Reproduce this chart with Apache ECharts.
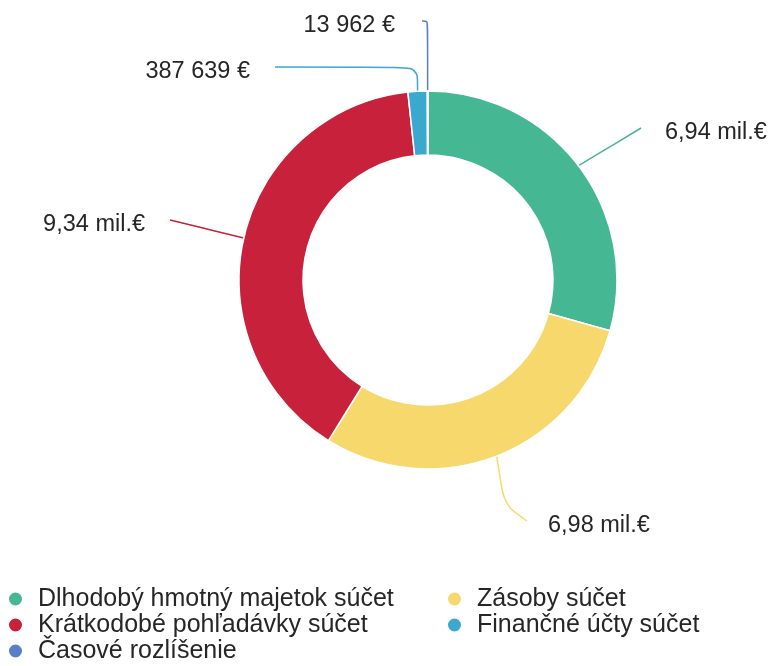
<!DOCTYPE html>
<html>
<head>
<meta charset="utf-8">
<script src="https://cdn.jsdelivr.net/npm/echarts@6/dist/echarts.min.js"></script>
<style>
html,body{margin:0;padding:0;background:#fff;}
#chart{width:770px;height:666px;}
</style>
</head>
<body>
<div id="chart"></div>
<script>
// Data (clockwise from 12 o'clock)
const categories = [
  'Dlhodobý hmotný majetok súčet',
  'Zásoby súčet',
  'Krátkodobé pohľadávky súčet',
  'Finančné účty súčet',
  'Časové rozlíšenie'
];
const values = [6940000, 6980000, 9340000, 387639, 13962];
const valueLabels = ['6,94 mil.€', '6,98 mil.€', '9,34 mil.€', '387 639 €', '13 962 €'];
const colors = ['#45b792', '#f6d86c', '#c8213c', '#3aa8cf', '#5a7fc6'];
const legendCol1 = ['Dlhodobý hmotný majetok súčet', 'Krátkodobé pohľadávky súčet', 'Časové rozlíšenie'];
const legendCol2 = ['Zásoby súčet', 'Finančné účty súčet'];

// Layout: where each value label's text edge sits, the gap before its guide line, and the line's shape
const labelPlace = [
  {x: 665, y: 133, align: 'left', gap: 24, bend: 'straight'},
  {x: 548, y: 526, align: 'left', gap: 21, bend: 'curve'},
  {x: 145, y: 225, align: 'right', gap: 25, bend: 'straight'},
  {x: 250, y: 72, align: 'right', gap: 25, bend: 'corner'},
  {x: 395, y: 26, align: 'right', gap: 27, bend: 'corner'}
];

const font = '"Liberation Sans", Arial, sans-serif';
const chart = echarts.init(document.getElementById('chart'), null, {renderer: 'canvas'});

const seriesData = categories.map((name, i) => ({
  name: name,
  value: values[i],
  itemStyle: {color: colors[i]},
  label: {formatter: valueLabels[i]}
}));

const legendBase = {
  orient: 'vertical',
  icon: 'circle',
  itemWidth: 15,
  itemHeight: 15,
  itemGap: 0,
  padding: 0,
  textStyle: {fontFamily: font, fontSize: 25, color: '#262626', lineHeight: 26, padding: [0, 0, 0, 10]},
  selectedMode: false
};

chart.setOption({
  animation: false,
  backgroundColor: '#ffffff',
  legend: [
    Object.assign({}, legendBase, {data: legendCol1, left: 7, top: 586}),
    Object.assign({}, legendBase, {data: legendCol2, left: 446, top: 586})
  ],
  series: [{
    type: 'pie',
    center: [428, 280],
    radius: [125, 189],
    startAngle: 90,
    clockwise: true,
    avoidLabelOverlap: false,
    minAngle: 0,
    itemStyle: {borderColor: '#ffffff', borderWidth: 1.5},
    label: {
      show: true,
      position: 'outside',
      fontFamily: font,
      fontSize: 23.5,
      color: '#262626'
    },
    labelLine: {show: true, length: 15, length2: 20, smooth: 0.3, lineStyle: {width: 1.5}},
    labelLayout: function (params) {
      const p = labelPlace[params.dataIndex];
      const start = params.labelLinePoints ? params.labelLinePoints[0] : null;
      const out = {x: p.x, y: p.y, align: p.align, verticalAlign: 'middle'};
      if (start) {
        const end = [p.align === 'left' ? p.x - p.gap : p.x + p.gap, p.y - 5];
        let mid;
        if (p.bend === 'corner') {
          mid = [start[0], end[1]];
        } else if (p.bend === 'curve') {
          mid = [start[0] + (end[0] - start[0]) * 0.25, start[1] + (end[1] - start[1]) * 0.75];
        } else {
          mid = [(start[0] + end[0]) / 2, (start[1] + end[1]) / 2];
        }
        out.labelLinePoints = [start, mid, end];
      }
      return out;
    },
    emphasis: {disabled: true},
    data: seriesData
  }]
});
</script>
</body>
</html>
